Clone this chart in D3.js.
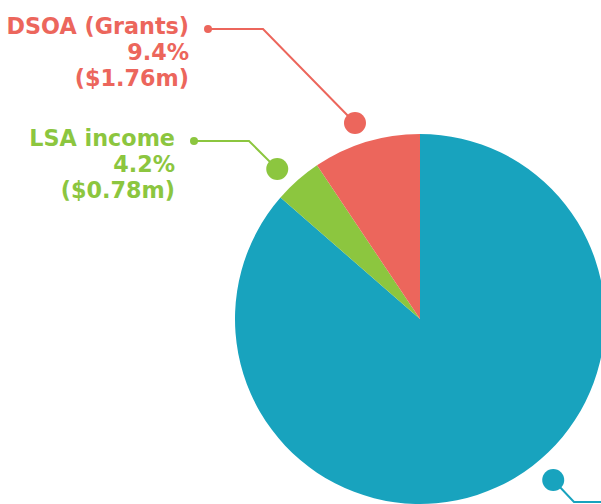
<!DOCTYPE html>
<html>
<head>
<meta charset="utf-8">
<script src="https://cdn.jsdelivr.net/npm/d3@7"></script>
<style>
  html, body { margin: 0; padding: 0; background: #fff; }
  svg { display: block; }
  text { font-family: "DejaVu Sans", "Noto Sans", sans-serif; font-weight: 700; }
</style>
</head>
<body>
<svg id="chart" width="601" height="504"></svg>
<script>
// Income sources, in drawing order (clockwise from 12 o'clock)
const categories = ["Other income", "LSA income", "DSOA (Grants)"];
const percents   = [86.4, 4.2, 9.4];
const amounts    = ["$16.18m", "$0.78m", "$1.76m"];
const colors     = ["#18A3BE", "#8CC63F", "#EC665C"];
const showLabel  = [false, true, true];

// Callout geometry: marker angle (degrees from 12 o'clock), marker radius,
// and the elbow / text anchor for each leader line.
const calloutAngle  = [140.4, -43.6, -18.35];
const calloutRadius = [209, 207, 206.5];
const elbows = [
  { elbow: [574, 502], end: [640, 502] },
  { elbow: [249, 141], end: [194, 141] },
  { elbow: [263, 29],  end: [208, 29] }
];

const width = 601, height = 504;
const cx = 420, cy = 319, radius = 185;

const svg = d3.select("#chart");
const g = svg.append("g").attr("transform", `translate(${cx},${cy})`);

const data = categories.map((c, i) => ({
  name: c, value: percents[i], amount: amounts[i], color: colors[i],
  show: showLabel[i], angle: calloutAngle[i], r: calloutRadius[i], line: elbows[i]
}));

const pie = d3.pie().sort(null).value(d => d.value).startAngle(0).endAngle(2 * Math.PI);
const arc = d3.arc().innerRadius(0).outerRadius(radius);

g.selectAll("path.slice")
  .data(pie(data))
  .join("path")
  .attr("class", "slice")
  .attr("d", arc)
  .attr("fill", d => d.data.color);

// Leader lines and markers
const callouts = svg.append("g");
data.forEach(d => {
  const a = d.angle * Math.PI / 180;
  const mx = cx + d.r * Math.sin(a);
  const my = cy - d.r * Math.cos(a);
  callouts.append("polyline")
    .attr("points", [[mx, my], d.line.elbow, d.line.end].map(p => p.join(",")).join(" "))
    .attr("fill", "none")
    .attr("stroke", d.color)
    .attr("stroke-width", 2);
  callouts.append("circle")
    .attr("cx", mx).attr("cy", my).attr("r", 11)
    .attr("fill", d.color);
  if (d.show) {
    callouts.append("circle")
      .attr("cx", d.line.end[0]).attr("cy", d.line.end[1]).attr("r", 4)
      .attr("fill", d.color);
    const t = callouts.append("text")
      .attr("x", d.line.end[0] - 19)
      .attr("y", d.line.end[1] + 5)
      .attr("text-anchor", "end")
      .attr("fill", d.color)
      .attr("font-size", 22.3);
    [d.name, d3.format(".1f")(d.value) + "%", "(" + d.amount + ")"].forEach((s, i) => {
      t.append("tspan")
        .attr("x", d.line.end[0] - 19)
        .attr("dy", i === 0 ? 0 : 26)
        .text(s);
    });
  }
});
</script>
</body>
</html>
